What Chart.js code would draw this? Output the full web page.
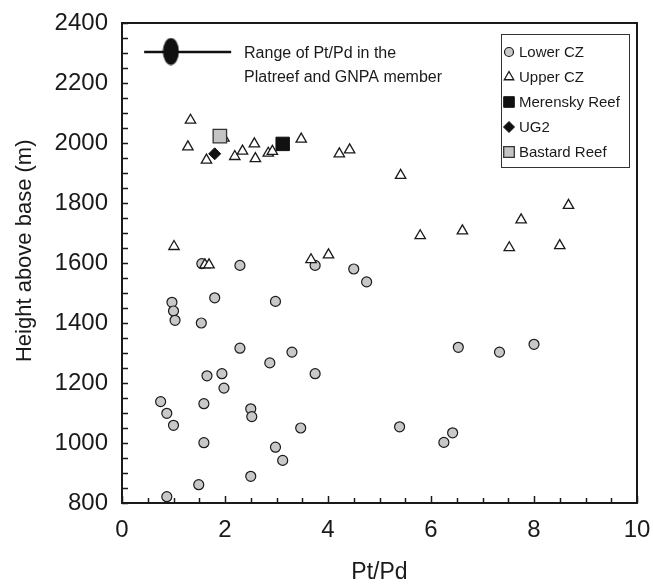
<!DOCTYPE html>
<html>
<head>
<meta charset="utf-8">
<script src="https://cdn.jsdelivr.net/npm/chart.js@4.4.0/dist/chart.umd.min.js"></script>
<style>
  html, body { margin: 0; padding: 0; background: #fff; }
</style>
</head>
<body>
<canvas id="myChart" width="653" height="584"></canvas>
<script>
// values
const lowerX = [1.55, 2.29, 3.75, 4.50, 4.75, 0.97, 1.00, 1.03, 1.80, 2.98, 1.54, 2.29, 3.30, 2.87, 1.65, 1.94, 3.75, 1.98, 0.75, 1.59, 0.87, 2.50, 2.52, 1.00, 1.59, 3.47, 2.98, 3.12, 2.50, 1.49, 0.87, 6.53, 7.33, 8.00, 5.39, 6.25, 6.42];
const lowerY = [1598, 1592, 1592, 1580, 1537, 1469, 1440, 1409, 1484, 1472, 1400, 1316, 1303, 1267, 1224, 1231, 1231, 1183, 1138, 1131, 1099, 1114, 1088, 1059, 1001, 1050, 986, 942, 889, 861, 821, 1319, 1303, 1329, 1054, 1002, 1034];

const upperX = [1.01, 1.61, 1.69, 3.67, 4.01, 5.41, 5.79, 6.61, 7.52, 7.75, 8.50, 8.67, 1.33, 1.28, 1.64, 1.98, 2.19, 2.34, 2.57, 2.59, 2.84, 2.92, 3.48, 4.22, 4.42];
const upperY = [1655, 1594, 1594, 1611, 1627, 1892, 1691, 1707, 1651, 1744, 1658, 1792, 2076, 1987, 1943, 2016, 1955, 1973, 1997, 1948, 1966, 1972, 2013, 1964, 1977];

const merenskyX = [3.12];
const merenskyY = [1997];
const ug2X = [1.80];
const ug2Y = [1964];
const bastardX = [1.90];
const bastardY = [2023];

const rangeX = [0.43, 2.12];
const rangeY = [2303, 2303];
const rangeMidX = [0.95];
const rangeMidY = [2305];

const legendLabels = ['Lower CZ', 'Upper CZ', 'Merensky Reef', 'UG2', 'Bastard Reef'];
const noteLines = ['Range of Pt/Pd in the', 'Platreef and GNPA member'];

const FONT = "'Liberation Sans', Arial, Helvetica, sans-serif";

function pts(xs, ys) {
  return xs.map((x, i) => ({ x: x, y: ys[i] }));
}

// filled ellipse used as the marker on the range bar
const ell = document.createElement('canvas');
ell.width = 17;
ell.height = 28;
const ec = ell.getContext('2d');
ec.fillStyle = '#111';
ec.beginPath();
ec.ellipse(8.5, 14, 8, 13.5, 0, 0, Math.PI * 2);
ec.fill();

const boxAndTicks = {
  id: 'boxAndTicks',
  afterDatasetsDraw(chart) {
    const ctx = chart.ctx;
    const a = chart.chartArea;
    const xs = chart.scales.x, ys = chart.scales.y;
    ctx.save();
    ctx.strokeStyle = '#1a1a1a';
    ctx.lineWidth = 1.5;
    ctx.beginPath();
    // x ticks, major every 2, minor every 0.5
    for (let v = xs.min; v <= xs.max + 1e-9; v += 0.5) {
      const px = Math.round(xs.getPixelForValue(v)) + 0.5;
      const len = Math.abs(v % 2) < 1e-9 ? 7 : 5;
      ctx.moveTo(px, a.bottom);
      ctx.lineTo(px, a.bottom - len);
    }
    // y ticks every 50
    for (let v = ys.min; v <= ys.max + 1e-9; v += 50) {
      const py = Math.round(ys.getPixelForValue(v)) + 0.5;
      ctx.moveTo(a.left, py);
      ctx.lineTo(a.left + 6, py);
    }
    ctx.stroke();
    ctx.lineWidth = 2;
    ctx.strokeRect(a.left, a.top, a.right - a.left, a.bottom - a.top);

    // note next to the range bar
    ctx.fillStyle = '#1a1a1a';
    ctx.font = '16px ' + FONT;
    ctx.textBaseline = 'middle';
    const tx = xs.getPixelForValue(2.37);
    const ty = ys.getPixelForValue(rangeY[0]);
    ctx.fillText(noteLines[0], tx, ty + 1);
    ctx.fillText(noteLines[1], tx, ty + 25);
    ctx.restore();
  }
};

const boxLegend = {
  id: 'boxLegend',
  afterDraw(chart) {
    const ctx = chart.ctx;
    ctx.save();
    ctx.fillStyle = '#fff';
    ctx.fillRect(501, 34, 128, 133);
    ctx.strokeStyle = '#333';
    ctx.lineWidth = 1;
    ctx.strokeRect(501.5, 34.5, 128, 133);
    ctx.font = '15px ' + FONT;
    ctx.textBaseline = 'middle';
    legendLabels.forEach((lab, i) => {
      const ds = chart.data.datasets[i];
      const y = 52 + i * 25;
      ctx.fillStyle = ds.backgroundColor;
      ctx.strokeStyle = ds.borderColor;
      ctx.lineWidth = ds.borderWidth;
      Chart.helpers.drawPoint(ctx, {
        pointStyle: ds.pointStyle,
        radius: ds.legendRadius,
        borderWidth: ds.borderWidth,
        rotation: 0
      }, 509, y);
      ctx.fillStyle = '#1a1a1a';
      ctx.fillText(lab, 519, y + 1);
    });
    ctx.restore();
  }
};

const ctx = document.getElementById('myChart').getContext('2d');
const myChart = new Chart(ctx, {
  type: 'scatter',
  data: {
    datasets: [{
      label: legendLabels[0],
      data: pts(lowerX, lowerY),
      pointStyle: 'circle',
      pointRadius: 5,
      legendRadius: 4.5,
      backgroundColor: '#c8c8c8',
      borderColor: '#1a1a1a',
      borderWidth: 1.2,
      order: 5
    }, {
      label: legendLabels[1],
      data: pts(upperX, upperY),
      pointStyle: 'triangle',
      pointRadius: 6,
      legendRadius: 5.5,
      backgroundColor: '#ffffff',
      borderColor: '#1a1a1a',
      borderWidth: 1.3,
      order: 4
    }, {
      label: legendLabels[2],
      data: pts(merenskyX, merenskyY),
      pointStyle: 'rect',
      pointRadius: 9.5,
      legendRadius: 7.5,
      backgroundColor: '#111111',
      borderColor: '#111111',
      borderWidth: 1,
      order: 2
    }, {
      label: legendLabels[3],
      data: pts(ug2X, ug2Y),
      pointStyle: 'rectRot',
      pointRadius: 6,
      legendRadius: 5.5,
      backgroundColor: '#111111',
      borderColor: '#111111',
      borderWidth: 1,
      order: 2
    }, {
      label: legendLabels[4],
      data: pts(bastardX, bastardY),
      pointStyle: 'rect',
      pointRadius: 9.5,
      legendRadius: 7.5,
      backgroundColor: '#c4c4c4',
      borderColor: '#333333',
      borderWidth: 1.3,
      order: 1
    }, {
      label: 'range',
      data: pts(rangeX, rangeY),
      showLine: true,
      borderColor: '#111111',
      borderWidth: 2.5,
      pointRadius: 0,
      order: 3
    }, {
      label: 'range mid',
      data: pts(rangeMidX, rangeMidY),
      pointStyle: ell,
      pointRadius: 10,
      order: 2
    }]
  },
  options: {
    responsive: false,
    animation: false,
    layout: { padding: { left: 0, right: 16, top: 23, bottom: 0 } },
    plugins: {
      legend: { display: false },
      tooltip: { enabled: false }
    },
    scales: {
      x: {
        type: 'linear',
        min: 0,
        max: 10,
        grid: { display: false, drawTicks: false },
        border: { display: false },
        ticks: { stepSize: 2, padding: 13, color: '#1a1a1a', font: { family: FONT, size: 24 } },
        title: {
          display: true,
          text: 'Pt/Pd',
          color: '#1a1a1a',
          padding: 0,
          font: { family: FONT, size: 23, lineHeight: 1 }
        },
        afterFit(scale) {
          scale.height = 81;
          scale.paddingLeft = 0;
          scale.paddingRight = 0;
        }
      },
      y: {
        type: 'linear',
        min: 800,
        max: 2400,
        grid: { display: false, drawTicks: false },
        border: { display: false },
        ticks: {
          stepSize: 200,
          padding: 14,
          color: '#1a1a1a',
          font: { family: FONT, size: 24 },
          callback: v => String(v)
        },
        title: {
          display: true,
          // leading spaces nudge the title up a little, as in the original
          text: '    Height above base (m)',
          color: '#1a1a1a',
          padding: { top: 14, bottom: 0 },
          font: { family: FONT, size: 22, lineHeight: 1 }
        },
        afterFit(scale) {
          scale.width = 122;
          scale.paddingTop = 0;
          scale.paddingBottom = 0;
        }
      }
    }
  },
  plugins: [boxAndTicks, boxLegend]
});
</script>
</body>
</html>
